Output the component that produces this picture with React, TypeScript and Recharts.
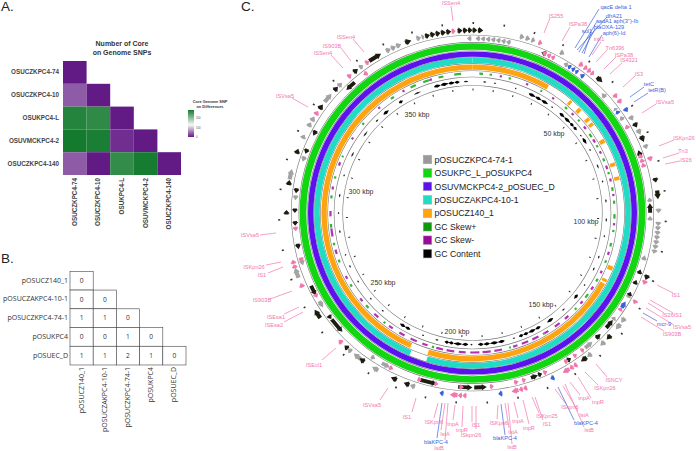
import React from "react";
import {
  PieChart, Pie, ScatterChart, Scatter, XAxis, YAxis, ReferenceLine, ReferenceArea,
} from "recharts";

const SANS = "'Liberation Sans', Arial, sans-serif";
const PINK = "#f277ad";
const BLUE = "#3b62dc";
const GENOME_KBP = 390;

// A. core genome SNP heatmap
const coreNames = ["OSUCZKPC4-74", "OSUCZKPC4-10", "OSUKPC4-L", "OSUVMCKPC4-2", "OSUCZKPC4-140"];
const coreSnps = [
  [0],
  [44, 0],
  [289, 281, 0],
  [300, 295, 14, 0],
  [44, 0, 278, 298, 0],
];

// B. plasmid difference table
const plasmidRows = ["pOSUCZ140_1", "pOSUCZAKPC4-10-1", "pOSUCZKPC4-74-1", "pOSUKPC4", "pOSUEC_D"];
const plasmidDiffs = [
  [0],
  [0, 0],
  [1, 1, 0],
  [0, 0, 1, 0],
  [1, 1, 2, 1, 0],
];

// C. ring spans, [start kbp, length kbp]
const greenSpans = [[0, 390]];
const purpleSpans = [[0, 390]];
const cyanSpans = [[0, 213.5], [220.5, 169.5]];
const orangeSpans = [
  [0, 33], [43.7, 1.2], [48.5, 1.6], [54, 1.5], [56.6, 1.5], [65, 1.8], [75.8, 1.6], [82, 1.5],
  [120.5, 1.8], [126.5, 1.2], [128.5, 85.3], [221.5, 168.5],
];

const outerBlack = [
  [0, 1.6], [1.8, 1.8], [45.5, 2.5], [65.5, 1.8], [70.5, 2.2], [85.5, 1.6], [89.8, 3], [119, 1.8], [143, 2],
  [154, 2.4], [216.5, 2], [221, 2.2], [233.5, 2], [240.5, 1.6], [254.5, 3.4], [292, 1.5], [302, 1.8],
  [313, 1.8], [330, 2], [338, 1.8], [347, 1.8], [353.5, 4.6], [367, 2.2], [374, 1.7], [375.8, 1.7],
  [377.6, 1.7], [379.4, 1.7], [381.2, 1.7], [385, 1.7], [386.8, 1.7], [388.5, 1.5],
];
const outerGray = [
  [16, 1.6], [18, 1.6], [20, 1.4], [30.5, 1.6], [62.8, 1.8], [68, 2], [73.7, 1.6], [96, 1.6],
  [100.5, 1.4], [102, 1.5], [103.6, 1.5], [105.2, 1.5], [106.8, 1.5], [108.4, 1.5], [110, 1.5], [135.5, 2],
  [138, 2.4], [146, 2], [152, 1.8], [214.5, 1.8], [228, 2.4], [235, 3], [239, 1.6], [270, 3.6], [304, 3.6],
  [318.5, 1.6], [323, 1.8], [325.2, 1.8], [333, 3.6], [340, 1.8], [349.5, 1.5], [360, 1.8], [361.9, 1.8],
  [363.8, 1.8], [371, 1.6], [372.8, 1],
];
const outerPink = [
  [22.5, 1.4], [38, 1.6], [40, 1.4], [41.5, 1.4], [43, 1.2], [53.7, 1.6], [56, 1.6], [78, 1.8], [121, 1.5],
  [128.4, 1.5], [158, 1.4], [159.5, 1.4], [161, 2.6], [176.5, 1.4], [178, 1.4], [179.5, 2.4], [197, 1.4],
  [198.5, 1.4], [200, 2.6], [243.3, 1.6], [266.5, 1.6], [273.5, 1.4], [275, 1.4], [327.7, 1.6], [344.5, 1.5],
  [352, 1.5], [383, 1.4],
];
const outerBlue = [[59.6, 1.6], [166.8, 1.4], [185, 1.4], [204.7, 1.4]];

const innerBlack = [
  [24.7, 1.8], [74.7, 2], [94, 3.4], [118, 1.6], [122, 1.6], [126.7, 1.4], [138.5, 3.6], [145, 2.2],
  [158.5, 1.6], [170, 1.5], [171.6, 2.6], [190, 4.4], [195, 5], [207.5, 6], [246, 5.8], [252, 1.6], [262, 3.8],
  [279.5, 2], [288, 1.6], [292.5, 1.6], [299.5, 1.8], [314, 1.8], [321, 2], [341, 4],
];
const innerGray = [
  [1, 1.6], [2.8, 1.6], [4.6, 1.6], [6.4, 1.6], [8.2, 1.6], [10, 1.6], [11.8, 1.6], [33.5, 1.5],
  [50.5, 2], [57.4, 1], [61, 1.6], [92, 1.5], [98.6, 1.5], [112.7, 1.8], [127.5, 1.4], [137, 1.4],
  [149, 3.4], [225, 3.2], [231, 1.6], [257, 2.6], [273.5, 2.4], [297, 1.8], [311, 2], [388, 1.6],
];
const innerPink = [
  [25, 1.6], [26.7, 1.6], [28.4, 1.4], [64.6, 1.6], [76, 1.6], [77.7, 1.6], [79.4, 1.6], [133, 1.4], [152.8, 1.4],
  [156, 1.4], [159.6, 1.6], [168, 1.5], [176, 1.4], [178.7, 1.6], [187.5, 1.4], [198, 1.6], [207, 1.4], [213, 1.5],
  [223.7, 1.5], [261, 1.6], [275, 1.5], [286, 1.6], [349, 1.6],
];
const innerBlue = [[35, 1.4], [36.6, 1.4], [38.2, 1.2], [40.4, 1.6], [58.5, 1.4], [130.5, 2.6]];

const skewPlus = [
  [3, 1.6], [7.5, 1], [16, 1], [31, 0.8], [44, 1.2], [52, 1], [60, 1.8], [66, 1], [72.5, 1.4], [79, 1],
  [86, 1.6], [92, 1.4], [98, 2], [105, 1], [111, 1.6], [119, 1.2], [128, 1.4], [136, 2], [144, 1], [162, 0.8],
  [178, 0.8], [212, 1], [236, 1], [246, 1.6], [258, 1.2], [270, 1.4], [278, 1.2], [286, 1.6], [299, 1.4], [308, 1],
  [318, 0.8], [335, 1], [352, 1.6], [362, 2.5], [368, 3], [375, 2.2], [382, 3],
];
const skewMinus = [
  [12, 1], [24, 1], [37, 1], [48, 1.2], [56, 1.4], [63, 1.6], [69, 1.2], [76, 1.6], [82, 1.4], [89, 1],
  [102, 1], [115, 1.4], [124, 1.2], [132, 1.6], [140, 1.4], [149, 2], [154, 2.6], [160, 2], [165, 3], [170, 3],
  [175, 2], [182, 3.4], [187, 3.6], [192, 4], [198, 3], [203, 3.4], [208, 3], [215, 2.4], [220, 3], [226, 2.6],
  [232, 2], [240, 2.4], [250, 1.6], [262, 1.4], [274, 2], [282, 3.6], [291, 2.4], [303, 1.4], [314, 1.6], [327, 1],
  [345, 1], [358, 1], [371, 1],
];
const gcThick = [
  [27, 3.2], [30.4, 3], [33.6, 3.4], [44, 2.8], [47, 3.6], [50.8, 2.2], [53.2, 2], [60, 3], [139, 2.4], [155, 3.2],
  [162, 2.6], [164.8, 3.4], [168.4, 2.4], [171, 2], [180, 3], [183.2, 3.6], [187, 2.8], [190, 2.4], [197, 2.8],
  [200, 3.6], [203.8, 2.2], [206, 2], [225, 2.6], [227.8, 2.6], [345, 3], [354, 2], [372, 3], [375.2, 3.4],
  [378.8, 2.8], [381.8, 2.2],
];
const gcThin = [
  [5, 1.4], [10, 1], [20, 0.8], [39, 1], [58, 1], [66, 1], [74, 2], [82, 1], [91, 1.6], [100, 1.6],
  [108, 1], [118, 1.4], [124, 1.6], [133, 1], [148, 1.4], [175, 1], [195, 1], [211, 1.4], [218, 1], [240, 1.2],
  [248, 1], [258, 1], [266, 1.2], [272, 0.8], [283, 1.4], [292, 1], [300, 1.6], [310, 1], [320, 2.4], [331, 3],
  [340, 1.6], [362, 3.4], [386, 2],
];
const rulerKbp = [
  0, 10, 20, 30, 40, 50, 60, 70, 80, 90, 100, 110, 120, 130, 140, 150, 160, 170, 180, 190,
  200, 210, 220, 230, 240, 250, 260, 270, 280, 290, 300, 310, 320, 330, 340, 350, 360, 370, 380,
];

const legendNames = [
  "pOSUCZKPC4-74-1", "OSUKPC_L_pOSUKPC4", "OSUVMCKPC4-2_pOSUEC_D", "pOSUCZAKPC4-10-1",
  "pOSUCZ140_1", "GC Skew+", "GC Skew-", "GC Content",
];
const legendColors = ["#999999", "#12d612", "#5c12ee", "#20dcc4", "#ffa411", "#0a9a0a", "#9a0a9a", "#000000"];

// label, text x, text y, leader x1, y1, x2, y2
const pinkLabels: [string, number, number, number, number, number, number][] = [
  ["ISSen4", 451, 3, 451, 6, 453, 21],
  ["ISSen4", 346, 37, 353, 39, 364, 52],
  ["IS903B", 332, 46, 341, 48, 351, 61],
  ["ISSen4", 323, 53, 331, 55, 343, 68],
  ["ISVsa5", 285, 96, 292, 98, 308, 107],
  ["IS255", 556, 16, 550, 18, 544, 33],
  ["ISPa38", 578, 24, 570, 27, 562, 41],
  ["intI1", 599, 39, 601, 42, 592, 55],
  ["Tn6396", 615, 48, 607, 50, 596, 62],
  ["ISPa38", 624, 55, 616, 57, 604, 69],
  ["IS4321", 629, 60, 622, 63, 610, 74],
  ["IS3", 639, 74, 635, 76, 623, 87],
  ["ISVsa5", 665, 102, 656, 104, 642, 113],
  ["ISKpn26", 684, 138, 674, 140, 659, 146],
  ["Tn3", 683, 151, 679, 153, 663, 158],
  ["IS26", 686, 160, 680, 161, 665, 164],
  ["ISVsa5", 250, 235, 260, 235, 276, 233],
  ["ISKpn26", 254, 267, 266, 265, 281, 262],
  ["IS1", 262, 275, 268, 273, 283, 267],
  ["IS903B", 262, 300, 270, 299, 292, 291],
  ["ISEsa1", 276, 317, 284, 314, 299, 307],
  ["ISEsa2", 274, 325, 284, 322, 303, 312],
  ["ISEcl1", 314, 365, 322, 360, 336, 348],
  ["ISVsa5", 372, 405, 380, 400, 388, 388],
  ["IS1", 407, 417, 412, 412, 416, 398],
  ["ISKpn6", 434, 422, 434, 418, 438, 403],
  ["IstA", 445, 434, 441, 430, 445, 403],
  ["IstB", 439, 448, 445, 440, 448, 403],
  ["tnpA", 453, 424, 453, 420, 455, 405],
  ["tnpR", 462, 430, 462, 427, 463, 406],
  ["IS1", 476, 425, 472, 422, 472, 406],
  ["ISkpn26", 471, 435, 476, 429, 476, 406],
  ["ISKpn6", 499, 423, 497, 419, 498, 405],
  ["IstA", 513, 432, 509, 428, 505, 403],
  ["IstB", 512, 447, 512, 444, 508, 403],
  ["tnpA", 518, 421, 518, 418, 514, 402],
  ["tnpR", 529, 428, 529, 424, 523, 400],
  ["ISKpn25", 547, 416, 539, 413, 532, 397],
  ["IS1", 547, 424, 543, 420, 535, 397],
  ["ISkpn6", 570, 407, 566, 404, 555, 389],
  ["IstA", 584, 415, 578, 411, 563, 386],
  ["IstB", 589, 430, 584, 427, 565, 384],
  ["tnpA", 584, 398, 580, 395, 570, 382],
  ["tnpR", 598, 402, 591, 398, 578, 377],
  ["ISKpn26", 605, 388, 598, 385, 585, 372],
  ["ISNCY", 614, 380, 607, 377, 596, 364],
  ["IS1", 676, 295, 673, 293, 657, 285],
  ["IS26", 668, 315, 664, 313, 648, 303],
  ["IS1", 678, 315, 673, 313, 650, 300],
  ["ISVsa5", 682, 327, 674, 325, 646, 308],
  ["IS903B", 672, 334, 664, 331, 641, 317],
];
const blueLabels: [string, number, number, number, number, number, number][] = [
  ["qacE delta 1", 616, 7, 599, 9, 575, 48],
  ["dfrA21", 614, 16, 607, 17, 577, 50],
  ["aadA1  aph(3'')-Ib", 617, 21, 596, 23, 579, 52],
  ["blaOXA-129", 609, 27, 595, 29, 582, 53],
  ["sul1", 587, 31, 591, 33, 584, 54],
  ["aph(6)-Id", 614, 33, 602, 35, 589, 57],
  ["tetC", 649, 84, 644, 87, 630, 97],
  ["tetR(B)", 657, 90, 648, 93, 634, 102],
  ["blaKPC-4", 436, 442, 437, 438, 442, 403],
  ["blaKPC-4", 505, 438, 505, 435, 501, 404],
  ["blaKPC-4", 586, 423, 574, 420, 558, 387],
  ["mcr-9", 664, 324, 657, 321, 643, 313],
];
const kbpLabels: [string, number, number][] = [
  ["350 kbp", 417, 115],
  ["50 kbp", 554, 134],
  ["300 kbp", 361, 192],
  ["100 kbp", 586, 222],
  ["250 kbp", 383, 283],
  ["150 kbp", 541, 305],
  ["200 kbp", 457, 332],
];

// diverging purple / white / green scale of the heatmap
const snpColor = (v: number) => {
  const mix = (a: number[], b: number[], t: number) =>
    `rgb(${a.map((c, i) => Math.round(c + (b[i] - c) * t)).join(",")})`;
  const purple = [98, 26, 133];
  const white = [247, 247, 247];
  const green = [19, 122, 46];
  return v < 150 ? mix(purple, white, v / 150) : mix(white, green, (v - 150) / 150);
};

const toCells = (rows: number[][]) =>
  rows.flatMap((row, r) => row.map((value, c) => ({ col: c, row: r, value })));

// turn spans into pie slices, with empty slices for the gaps
const toSlices = (spans: number[][], fill: string) => {
  const out: { value: number; fill: string }[] = [];
  let at = 0;
  [...spans].sort((a, b) => a[0] - b[0]).forEach(([start, len]) => {
    const from = Math.max(start, at);
    if (from > at) out.push({ value: from - at, fill: "none" });
    out.push({ value: len, fill });
    at = from + len;
  });
  if (at < GENOME_KBP) out.push({ value: GENOME_KBP - at, fill: "none" });
  return out;
};

const polar = (cx: number, cy: number, r: number, deg: number) => {
  const a = (deg * Math.PI) / 180;
  return `${cx + r * Math.cos(a)},${cy - r * Math.sin(a)}`;
};

const arrowShape = (forward: boolean) => (p: any) => {
  if (p.fill === "none") return <g />;
  const { cx, cy, innerRadius: ri, outerRadius: ro } = p;
  const tail = forward ? p.startAngle : p.endAngle;
  const tip = forward ? p.endAngle : p.startAngle;
  const span = tip - tail;
  const neck = tip - Math.sign(span) * Math.min(Math.abs(span) * 0.8, 1.6);
  const mid = (ri + ro) / 2;
  const half = (ro - ri) * 0.32;
  const pts = [
    polar(cx, cy, mid + half, tail), polar(cx, cy, mid + half, neck), polar(cx, cy, ro, neck),
    polar(cx, cy, mid, tip), polar(cx, cy, ri, neck), polar(cx, cy, mid - half, neck),
    polar(cx, cy, mid - half, tail),
  ];
  return <polygon points={pts.join(" ")} fill={p.fill} />;
};

// GC content peaks taper towards both ends
const peakShape = (p: any) => {
  if (p.fill === "none") return <g />;
  const { cx, cy, innerRadius: ri, outerRadius: ro, startAngle: a, endAngle: b } = p;
  const mid = (ri + ro) / 2;
  const at = (t: number) => a + (b - a) * t;
  const steps = [0, 0.25, 0.5, 0.75, 1];
  const swell = [0.2, 0.7, 1, 0.55, 0.2];
  const up = steps.map((t, i) => polar(cx, cy, mid + ((ro - ri) / 2) * swell[i], at(t)));
  const down = steps.map((t, i) => polar(cx, cy, mid - ((ro - ri) / 2) * swell[i], at(t))).reverse();
  return <polygon points={[...up, ...down].join(" ")} fill={p.fill} />;
};

const ringProps = {
  cx: 472.5, cy: 213, startAngle: 90, endAngle: -270,
  dataKey: "value", stroke: "none", isAnimationActive: false,
};

const Ring = (data: any[], inner: number, outer: number, key: string, shape?: any) => (
  <Pie key={key} {...ringProps} data={data} innerRadius={inner} outerRadius={outer} shape={shape} />
);

const rulerSpans = rulerKbp.map((k) => [k, 0.5]);
const ringLines = [178, 170.6, 162.2, 155.7, 149.4, 142.2, 136, 127.5];

const GenomeRings = () => (
  <div style={{ position: "absolute", left: 0, top: 0, transform: "scaleX(1.018)", transformOrigin: "472.5px 213px" }}>
    <PieChart width={696} height={451} margin={{ top: 0, right: 0, bottom: 0, left: 0 }}>
      {ringLines.map((r) => Ring([{ value: GENOME_KBP, fill: "#777" }], r - 0.3, r + 0.3, `line${r}`))}
      {Ring(toSlices(greenSpans, "#12d612"), 163.2, 169.8, "green")}
      {Ring(toSlices(purpleSpans, "#5c12ee"), 156.2, 161.6, "purple")}
      {Ring(toSlices(cyanSpans, "#20dcc4"), 150, 155.4, "cyan")}
      {Ring(toSlices(orangeSpans, "#ffa411"), 143.2, 148.4, "orange")}
      {Ring(toSlices(outerGray, "#a3a3a3"), 179.5, 186, "og", arrowShape(true))}
      {Ring(toSlices(outerBlack, "#1c1c10"), 179.5, 186, "ok", arrowShape(true))}
      {Ring(toSlices(outerPink, "#f277ad"), 179.5, 186, "op", arrowShape(true))}
      {Ring(toSlices(outerBlue, "#3b62dc"), 179.5, 186, "ob", arrowShape(true))}
      {Ring(toSlices(innerGray, "#a3a3a3"), 171.5, 177.5, "ig", arrowShape(false))}
      {Ring(toSlices(innerBlack, "#1c1c10"), 171.5, 177.5, "ik", arrowShape(false))}
      {Ring(toSlices(innerPink, "#f277ad"), 171.5, 177.5, "ip", arrowShape(false))}
      {Ring(toSlices(innerBlue, "#3b62dc"), 171.5, 177.5, "ib", arrowShape(false))}
      {Ring(toSlices(skewPlus, "#35b535"), 138.4, 140.6, "skew+")}
      {Ring(toSlices(skewMinus, "#b233b2"), 138.4, 140.6, "skew-")}
      {Ring(toSlices(gcThick, "#000000"), 130, 133.2, "gc1", peakShape)}
      {Ring(toSlices(gcThin, "#222222"), 130.8, 132.4, "gc2", peakShape)}
      {Ring(toSlices(rulerSpans, "#333333"), 189, 191, "rulerOut")}
      {Ring(toSlices(rulerSpans, "#333333"), 122.5, 124.5, "rulerIn")}
    </PieChart>
  </div>
);

const CoreHeatmap = () => (
  <div style={{ position: "absolute", left: 0, top: 0 }}>
    <ScatterChart width={260} height={240} margin={{ top: 61, right: 79, bottom: 0, left: 0 }}>
      <XAxis
        type="number" dataKey="col" domain={[-0.5, 4.5]} ticks={[0, 1, 2, 3, 4]} interval={0}
        axisLine={false} tickLine={false} height={65}
        tick={(p: any) => (
          <text
            transform={`translate(${p.x + 2},178) rotate(-90)`} textAnchor="end"
            fontSize={6.3} fontWeight={700} fontFamily={SANS} fill="#444"
          >
            {coreNames[p.payload.value]}
          </text>
        )}
      />
      <YAxis
        type="number" dataKey="row" domain={[-0.5, 4.5]} ticks={[0, 1, 2, 3, 4]} reversed interval={0}
        axisLine={false} tickLine={false} width={63}
        tick={(p: any) => (
          <text x={59} y={p.y + 2} textAnchor="end" fontSize={6.3} fontWeight={700} fontFamily={SANS} fill="#444">
            {coreNames[p.payload.value]}
          </text>
        )}
      />
      <Scatter
        data={toCells(coreSnps)} isAnimationActive={false}
        shape={(p: any) => (
          <rect x={p.cx - 11.8} y={p.cy - 11.4} width={23.6} height={22.8} fill={snpColor(p.payload.value)} />
        )}
      />
    </ScatterChart>
  </div>
);

const PlasmidTable = () => (
  <div style={{ position: "absolute", left: 0, top: 240 }}>
    <ScatterChart width={220} height={211} margin={{ top: 31.3, right: 34, bottom: 0, left: 0 }}>
      <XAxis
        type="number" dataKey="col" domain={[-0.5, 4.5]} ticks={[0, 1, 2, 3, 4]} interval={0}
        axisLine={false} tickLine={false} height={86}
        tick={(p: any) => (
          <text
            transform={`translate(${p.x + 2},127) rotate(-90)`} textAnchor="end"
            fontSize={7} fontFamily="'Open Sans', sans-serif" fill="#333"
          >
            {plasmidRows[p.payload.value]}
          </text>
        )}
      />
      <YAxis
        type="number" dataKey="row" domain={[-0.5, 4.5]} ticks={[0, 1, 2, 3, 4]} reversed interval={0}
        axisLine={false} tickLine={false} width={70}
        tick={(p: any) => (
          <text x={68} y={p.y + 2} textAnchor="end" fontSize={7} fontFamily="'Open Sans', sans-serif" fill="#333">
            {plasmidRows[p.payload.value]}
          </text>
        )}
      />
      <Scatter
        data={toCells(plasmidDiffs)} isAnimationActive={false}
        shape={(p: any) => (
          <g>
            <rect x={p.cx - 11.6} y={p.cy - 9.35} width={23.2} height={18.7} fill="#fff" stroke="#444" strokeWidth={0.6} />
            <text x={p.cx} y={p.cy + 2.2} textAnchor="middle" fontSize={6.6} fontFamily="'Open Sans', sans-serif" fill="#333">
              {p.payload.value}
            </text>
          </g>
        )}
      />
    </ScatterChart>
  </div>
);

const textAt = (p: any) => (
  <text
    x={p.cx} y={p.cy + (p.payload.dy ?? 2)} textAnchor={p.payload.anchor ?? "middle"}
    fontSize={p.payload.size} fontWeight={p.payload.bold ? 700 : 400} fontFamily={SANS} fill={p.payload.color}
  >
    {p.payload.text}
  </text>
);

const annotationText = [
  ...pinkLabels.map(([text, x, y]) => ({ x, y, text, size: 5.6, color: PINK })),
  ...blueLabels.map(([text, x, y]) => ({ x, y, text, size: 5.6, color: BLUE })),
  ...kbpLabels.map(([text, x, y]) => ({ x, y, text, size: 7, color: "#333" })),
  ...legendNames.map((text, i) => ({ x: 434.5, y: 159.5 + i * 13.45, text, size: 8.7, color: "#222", anchor: "start", dy: 3.1 })),
  { x: 1, y: 5.5, text: "A.", size: 13.5, color: "#222", anchor: "start", dy: 5 },
  { x: 1, y: 257.5, text: "B.", size: 13.5, color: "#222", anchor: "start", dy: 5 },
  { x: 241, y: 5.5, text: "C.", size: 13.5, color: "#222", anchor: "start", dy: 5 },
  { x: 122, y: 44, text: "Number of Core", size: 7, color: "#333", bold: true },
  { x: 122, y: 52.5, text: "on Genome SNPs", size: 7, color: "#333", bold: true },
  { x: 210, y: 101, text: "Core Genome SNP", size: 3.9, color: "#333", bold: true },
  { x: 210, y: 106, text: "on Differences", size: 3.9, color: "#333", bold: true },
  { x: 196, y: 118, text: "200", size: 2.8, color: "#555", anchor: "start", dy: 1 },
  { x: 196, y: 128, text: "100", size: 2.8, color: "#555", anchor: "start", dy: 1 },
  { x: 196, y: 137, text: "0", size: 2.8, color: "#555", anchor: "start", dy: 1 },
];
const legendBoxes = legendColors.map((color, i) => ({ x: 427.5, y: 159.5 + i * 13.45, color }));

const Annotations = () => (
  <div style={{ position: "absolute", left: 0, top: 0 }}>
    <ScatterChart width={696} height={451} margin={{ top: 0, right: 0, bottom: 0, left: 0 }}>
      <defs>
        <linearGradient id="snpScale" x1="0" y1="0" x2="0" y2="1">
          <stop offset="0%" stopColor="#137a2e" />
          <stop offset="55%" stopColor="#f7f7f7" />
          <stop offset="100%" stopColor="#621a85" />
        </linearGradient>
      </defs>
      <XAxis type="number" dataKey="x" domain={[0, 696]} hide />
      <YAxis type="number" dataKey="y" domain={[0, 451]} reversed hide />
      <ReferenceArea x1={188} x2={194} y1={110} y2={137} fill="url(#snpScale)" fillOpacity={1} stroke="none" />
      {[...pinkLabels.map((l) => ({ l, c: PINK })), ...blueLabels.map((l) => ({ l, c: BLUE }))].map(({ l, c }, i) => (
        <ReferenceLine
          key={i}
          segment={[{ x: l[3], y: l[4] }, { x: l[5], y: l[6] }]}
          stroke={c} strokeWidth={0.7}
        />
      ))}
      <Scatter
        data={legendBoxes} isAnimationActive={false}
        shape={(p: any) => (
          <rect x={p.cx - 4.3} y={p.cy - 4.3} width={8.6} height={8.6} fill={p.payload.color} stroke="#aaa" strokeWidth={0.5} />
        )}
      />
      <Scatter data={annotationText} isAnimationActive={false} shape={textAt} />
    </ScatterChart>
  </div>
);

export default function App() {
  return (
    <div style={{ position: "absolute", left: 0, top: 0, width: 696, height: 451, background: "#fff", overflow: "hidden" }}>
      <CoreHeatmap />
      <PlasmidTable />
      <GenomeRings />
      <Annotations />
    </div>
  );
}
